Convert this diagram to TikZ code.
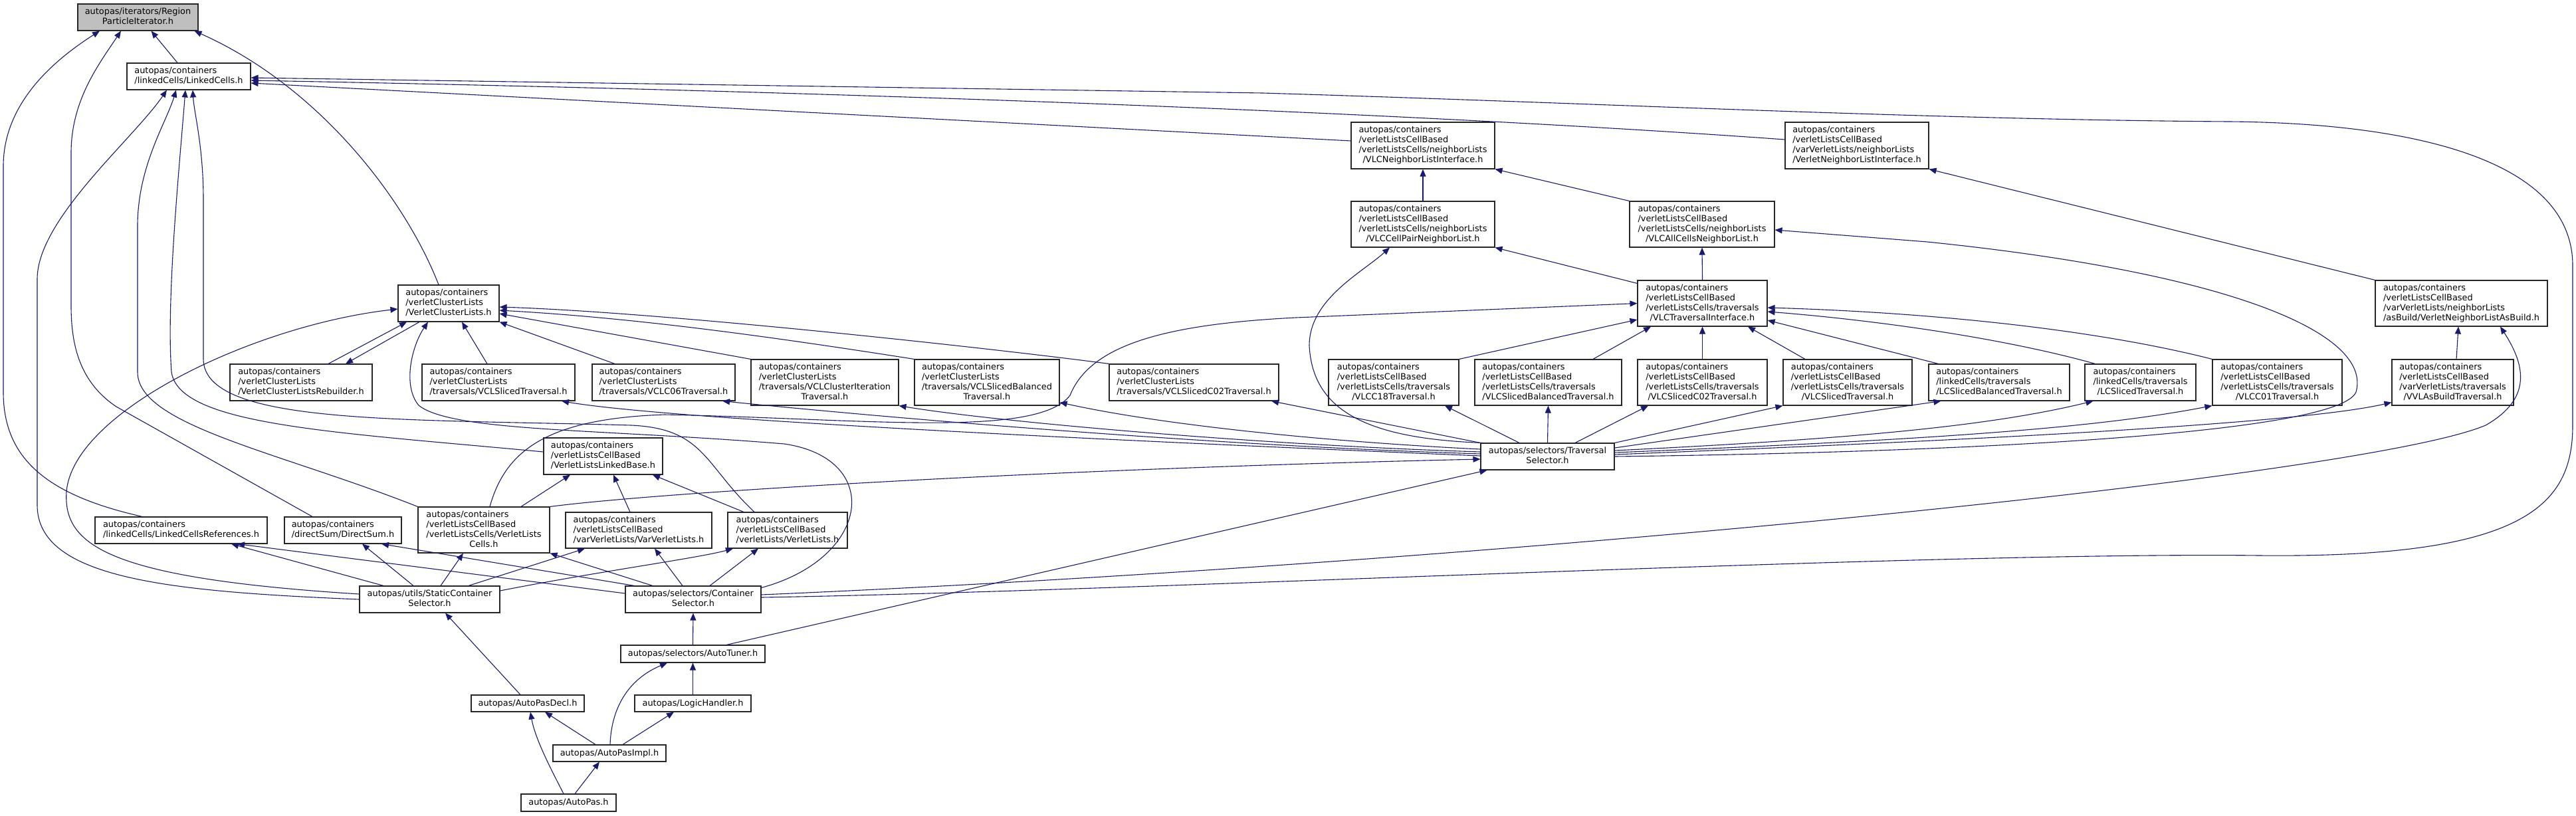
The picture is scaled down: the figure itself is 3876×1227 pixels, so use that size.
\documentclass[tikz,border=0pt]{standalone}
\usepackage{fontspec}
\setmainfont{DejaVu Sans}
\usepackage{tikz}
\usetikzlibrary{arrows.meta}
\definecolor{edgeblue}{RGB}{25,25,112}
\definecolor{rootgray}{RGB}{191,191,191}
\newcommand{\depfont}{\fontsize{12.9}{15}\selectfont}
\newcommand{\flines}[2]{\begin{tabular}{@{}l@{}}#1\\\multicolumn{1}{@{}c@{}}{#2}\end{tabular}}

\begin{document}
\begin{tikzpicture}[
  x=1pt, y=-1pt,
  font=\depfont,
  file/.style={rectangle, draw=black!85, line width=1.1pt, fill=white, inner sep=0pt},
  dep/.style={-{Triangle[length=11pt, width=9pt]}, line width=1.1pt, draw=edgeblue}
]
\useasboundingbox (0,0) rectangle (3876,1227);

% top of the graph
\node[file, fill=rootgray, minimum width=181pt, minimum height=40pt] (rpi) at (207.5,26) {\flines{autopas/iterators/Region}{ParticleIterator.h}};
\node[file, minimum width=186pt, minimum height=40pt] (lc) at (284,115) {\flines{autopas/containers}{/linkedCells/LinkedCells.h}};
\node[file, minimum width=216pt, minimum height=70pt] (vlcnli) at (2141,219) {\flines{autopas/containers\\/verletListsCellBased\\/verletListsCells/neighborLists}{/VLCNeighborListInterface.h}};
\node[file, minimum width=216pt, minimum height=70pt] (vnli) at (2794,219) {\flines{autopas/containers\\/verletListsCellBased\\/varVerletLists/neighborLists}{/VerletNeighborListInterface.h}};
\node[file, minimum width=216pt, minimum height=69pt] (vlccpnl) at (2141,337.5) {\flines{autopas/containers\\/verletListsCellBased\\/verletListsCells/neighborLists}{/VLCCellPairNeighborList.h}};
\node[file, minimum width=218pt, minimum height=69pt] (vlcacnl) at (2561,337.5) {\flines{autopas/containers\\/verletListsCellBased\\/verletListsCells/neighborLists}{/VLCAllCellsNeighborList.h}};
\node[file, minimum width=152pt, minimum height=55pt] (vcl) at (675,456.5) {\flines{autopas/containers\\/verletClusterLists}{/VerletClusterLists.h}};
\node[file, minimum width=195pt, minimum height=69pt] (vlcti) at (2561.5,456.5) {\flines{autopas/containers\\/verletListsCellBased\\/verletListsCells/traversals}{/VLCTraversalInterface.h}};
\node[file, minimum width=259pt, minimum height=69pt] (vnlab) at (3703.5,456.5) {\flines{autopas/containers\\/verletListsCellBased\\/varVerletLists/neighborLists}{/asBuild/VerletNeighborListAsBuild.h}};

% row of traversals
\node[file, minimum width=214pt, minimum height=55pt] (vclr) at (453,575.5) {\flines{autopas/containers\\/verletClusterLists}{/VerletClusterListsRebuilder.h}};
\node[file, minimum width=230pt, minimum height=55pt] (vclsl) at (750,575.5) {\flines{autopas/containers\\/verletClusterLists}{/traversals/VCLSlicedTraversal.h}};
\node[file, minimum width=215pt, minimum height=55pt] (vclc06) at (998.5,575.5) {\flines{autopas/containers\\/verletClusterLists}{/traversals/VCLC06Traversal.h}};
\node[file, minimum width=222pt, minimum height=69pt] (vclci) at (1241,575.5) {\flines{autopas/containers\\/verletClusterLists\\/traversals/VCLClusterIteration}{Traversal.h}};
\node[file, minimum width=218pt, minimum height=69pt] (vclsb) at (1485,575.5) {\flines{autopas/containers\\/verletClusterLists\\/traversals/VCLSlicedBalanced}{Traversal.h}};
\node[file, minimum width=255pt, minimum height=55pt] (vclsc02) at (1796.5,575.5) {\flines{autopas/containers\\/verletClusterLists}{/traversals/VCLSlicedC02Traversal.h}};
\node[file, minimum width=196pt, minimum height=69pt] (vlcc18) at (2097,575.5) {\flines{autopas/containers\\/verletListsCellBased\\/verletListsCells/traversals}{/VLCC18Traversal.h}};
\node[file, minimum width=221pt, minimum height=69pt] (vlcsb) at (2329.5,575.5) {\flines{autopas/containers\\/verletListsCellBased\\/verletListsCells/traversals}{/VLCSlicedBalancedTraversal.h}};
\node[file, minimum width=195pt, minimum height=69pt] (vlcsc02) at (2561.5,575.5) {\flines{autopas/containers\\/verletListsCellBased\\/verletListsCells/traversals}{/VLCSlicedC02Traversal.h}};
\node[file, minimum width=194pt, minimum height=69pt] (vlcsl) at (2780,575.5) {\flines{autopas/containers\\/verletListsCellBased\\/verletListsCells/traversals}{/VLCSlicedTraversal.h}};
\node[file, minimum width=212pt, minimum height=55pt] (lcsb) at (3008,575.5) {\flines{autopas/containers\\/linkedCells/traversals}{/LCSlicedBalancedTraversal.h}};
\node[file, minimum width=167pt, minimum height=55pt] (lcsl) at (3220.5,575.5) {\flines{autopas/containers\\/linkedCells/traversals}{/LCSlicedTraversal.h}};
\node[file, minimum width=195pt, minimum height=69pt] (vlcc01) at (3426.5,575.5) {\flines{autopas/containers\\/verletListsCellBased\\/verletListsCells/traversals}{/VLCC01Traversal.h}};
\node[file, minimum width=183pt, minimum height=69pt] (vvlab) at (3690.5,575.5) {\flines{autopas/containers\\/verletListsCellBased\\/varVerletLists/traversals}{/VVLAsBuildTraversal.h}};

% selectors and containers
\node[file, minimum width=201pt, minimum height=40pt] (ts) at (2328.5,687) {\flines{autopas/selectors/Traversal}{Selector.h}};
\node[file, minimum width=179pt, minimum height=55pt] (vllb) at (907.5,686.5) {\flines{autopas/containers\\/verletListsCellBased}{/VerletListsLinkedBase.h}};
\node[file, minimum width=259pt, minimum height=40pt] (lcref) at (272.5,798) {\flines{autopas/containers}{/linkedCells/LinkedCellsReferences.h}};
\node[file, minimum width=176pt, minimum height=40pt] (ds) at (516,798) {\flines{autopas/containers}{/directSum/DirectSum.h}};
\node[file, minimum width=198pt, minimum height=69pt] (vlc) at (728,797.5) {\flines{autopas/containers\\/verletListsCellBased\\/verletListsCells/VerletLists}{Cells.h}};
\node[file, minimum width=220pt, minimum height=54pt] (vvl) at (961,798) {\flines{autopas/containers\\/verletListsCellBased}{/varVerletLists/VarVerletLists.h}};
\node[file, minimum width=180pt, minimum height=54pt] (vl) at (1185,798) {\flines{autopas/containers\\/verletListsCellBased}{/verletLists/VerletLists.h}};
\node[file, minimum width=211pt, minimum height=40pt] (scs) at (646.5,902) {\flines{autopas/utils/StaticContainer}{Selector.h}};
\node[file, minimum width=204pt, minimum height=40pt] (cs) at (1043,902) {\flines{autopas/selectors/Container}{Selector.h}};
\node[file, minimum width=217pt, minimum height=26pt] (at) at (1042.5,984) {autopas/selectors/AutoTuner.h};
\node[file, minimum width=170pt, minimum height=25pt] (apd) at (794,1058.5) {autopas/AutoPasDecl.h};
\node[file, minimum width=175pt, minimum height=25pt] (lh) at (1042.5,1058.5) {autopas/LogicHandler.h};
\node[file, minimum width=170pt, minimum height=25pt] (api) at (917,1133.5) {autopas/AutoPasImpl.h};
\node[file, minimum width=143pt, minimum height=26pt] (ap) at (855.5,1208) {autopas/AutoPas.h};

% includes of the root
\draw[dep] ([xshift=-17pt]lc.north) -- ([xshift=20pt]rpi.south);
\draw[dep] ([xshift=-58.5pt]lcref.north) .. controls (70,745) and (5,690) .. (5,590) -- (5,250) .. controls (5,150) and (90,85) .. ([xshift=-57.5pt]rpi.south);
\draw[dep] ([xshift=-46pt]ds.north) -- (175,612) .. controls (120,575) and (107,520) .. (107,460) -- (107,230) .. controls (107,150) and (150,95) .. ([xshift=-25.5pt]rpi.south);
\draw[dep] ([xshift=-15pt]vcl.north) .. controls (610,300) and (480,130) .. ([xshift=85pt]rpi.south);

% includes of LinkedCells.h
\draw[dep] (scs.west) .. controls (250,890) and (56,870) .. (56,760) -- (56,420) .. controls (56,330) and (200,210) .. ([xshift=-33pt]lc.south);
\draw[dep] (vlc.north west) .. controls (420,680) and (207,640) .. (207,560) -- (207,340) .. controls (207,250) and (250,185) .. ([xshift=-19pt]lc.south);
\draw[dep] ([yshift=6.5pt]vllb.west) .. controls (500,650) and (270,640) .. (258,560) .. controls (250,450) and (270,250) .. ([xshift=-5pt]lc.south);
\draw[dep] ([xshift=-50pt]vl.north) .. controls (1060,700) and (1060,645) .. (950,640) .. controls (600,630) and (306,640) .. (306,540) -- (306,300) .. controls (306,220) and (292,170) .. ([xshift=6pt]lc.south);
\draw[dep] ([yshift=3pt]cs.east) .. controls (1700,890) and (2900,830) .. (3400,836) .. controls (3800,840) and (3871,760) .. (3871,640) -- (3871,400) .. controls (3871,230) and (3600,185) .. (3354,183) .. controls (2900,180) and (2400,155) .. (1900,140) -- ([yshift=-2pt]lc.east);
\draw[dep] ([yshift=9pt]vnli.west) .. controls (2200,175) and (1400,140) .. ([yshift=-6pt]lc.east);
\draw[dep] ([yshift=7pt]vlcnli.west) -- ([yshift=-10pt]lc.east);

% verletClusterLists
\draw[dep] ([yshift=8pt]scs.west) .. controls (160,870) and (95,820) .. (100,740) .. controls (110,620) and (380,490) .. ([yshift=-8.5pt]vcl.west);
\draw[dep] ([yshift=-3pt]cs.north east) .. controls (1310,840) and (1330,690) .. (1180,668) .. controls (900,645) and (680,650) .. (630,610) .. controls (605,580) and (620,520) .. ([xshift=-31pt]vcl.south);
\draw[dep] ([xshift=41pt]vclr.north) -- ([xshift=-63pt]vcl.south);
\draw[dep] ([xshift=-44pt]vcl.south) -- ([xshift=67pt]vclr.north);
\draw[dep] ([xshift=-17pt]vclsl.north) -- ([xshift=20pt]vcl.south);
\draw[dep] ([xshift=-73.5pt]vclc06.north) -- (vcl.south east);
\draw[dep] (vclci.north west) -- ([yshift=-15.5pt]vcl.east);
\draw[dep] (vclsb.north west) .. controls (1150,505) and (950,478) .. ([yshift=-10.5pt]vcl.east);
\draw[dep] (vclsc02.north west) .. controls (1500,525) and (1000,470) .. ([yshift=-5.5pt]vcl.east);

% verletListsCellBased
\draw[dep] ([xshift=56pt]vlc.north) -- ([xshift=-49.5pt]vllb.south);
\draw[dep] ([xshift=-13pt]vvl.north) -- ([xshift=15.5pt]vllb.south);
\draw[dep] ([xshift=-66pt]vl.north) -- ([xshift=74.5pt]vllb.south);
\draw[dep] ([xshift=9pt]vlc.north) .. controls (760,680) and (820,630) .. (1000,624) .. controls (1300,630) and (1560,660) .. (1610,595) .. controls (1640,520) and (1750,488) .. (1950,478) -- (vlcti.west);
\draw[dep] (vlc.north east) .. controls (1000,740) and (1600,705) .. ([yshift=-4pt]ts.west);

% static selector
\draw[dep] ([xshift=-69.5pt]scs.north) -- ([xshift=75.5pt]lcref.south);
\draw[dep] ([xshift=-24.5pt]scs.north) -- ([xshift=29pt]ds.south);
\draw[dep] ([xshift=16.5pt]scs.north) -- ([xshift=-31pt]vlc.south);
\draw[dep] ([xshift=58.5pt]scs.north) -- ([xshift=-81pt]vvl.south);
\draw[dep] ([yshift=13pt]scs.east) .. controls (900,860) and (1050,840) .. ([xshift=-82pt]vl.south);

% container selector
\draw[dep] ([yshift=9pt]cs.west) -- ([xshift=84.5pt]lcref.south);
\draw[dep] ([xshift=14pt]cs.north west) -- ([xshift=58pt]ds.south);
\draw[dep] ([xshift=-61pt]cs.north) -- (vlc.south east);
\draw[dep] ([xshift=-16pt]cs.north) -- ([xshift=24pt]vvl.south);
\draw[dep] ([xshift=25pt]cs.north) -- ([xshift=-44pt]vl.south);
\draw[dep] ([yshift=7pt]cs.east) .. controls (2200,850) and (3550,720) .. (3740,640) .. controls (3810,600) and (3800,550) .. ([xshift=58.5pt]vnlab.south);

% tuner and front end
\draw[dep] ([xshift=50.5pt]at.north) -- ([xshift=10pt]ts.south west);
\draw[dep] (at.north) -- (cs.south);
\draw[dep] (lh.north) -- (at.south);
\draw[dep] ([xshift=1pt]api.north) .. controls (920,1060) and (950,1020) .. ([xshift=-38.5pt]at.south);
\draw[dep] ([xshift=20pt]api.north) -- ([xshift=-28.5pt]lh.south);
\draw[dep] ([xshift=-21pt]api.north) -- ([xshift=26pt]apd.south);
\draw[dep] ([xshift=-7.5pt]ap.north) .. controls (825,1150) and (805,1110) .. ([xshift=4pt]apd.south);
\draw[dep] ([xshift=9.5pt]ap.north) -- ([xshift=-15pt]api.south);
\draw[dep] ([xshift=-11pt]apd.north) -- ([xshift=23.5pt]scs.south);

% traversal selector, left side
\draw[dep] ([yshift=1pt]ts.west) .. controls (1600,660) and (1000,630) .. ([xshift=95pt]vclsl.south);
\draw[dep] ([yshift=4pt]ts.west) .. controls (1800,670) and (1300,625) .. ([xshift=88.5pt]vclc06.south);
\draw[dep] ([yshift=7pt]ts.west) .. controls (1900,670) and (1500,635) .. (vclci.south east);
\draw[dep] ([yshift=11pt]ts.west) .. controls (2000,665) and (1750,640) .. ([yshift=5pt]vclsb.south east);
\draw[dep] (ts.north west) -- ([xshift=116.5pt]vclsc02.south);
\draw[dep] ([xshift=3pt]ts.north west) .. controls (2060,660) and (1975,620) .. (1970,520) .. controls (1970,450) and (2050,410) .. ([xshift=-50pt]vlccpnl.south);

% traversal selector, top and right side
\draw[dep] ([xshift=-42.5pt]ts.north) -- ([xshift=77pt]vlcc18.south);
\draw[dep] (ts.north) -- (vlcsb.south);
\draw[dep] ([xshift=41.5pt]ts.north) -- ([xshift=-81.5pt]vlcsc02.south);
\draw[dep] (ts.north east) -- (vlcsl.south west);
\draw[dep] ([yshift=13pt]ts.east) -- ([xshift=19pt]lcsb.south west);
\draw[dep] ([yshift=9pt]ts.east) .. controls (2800,660) and (3000,640) .. ([xshift=13pt]lcsl.south west);
\draw[dep] ([yshift=6pt]ts.east) .. controls (2900,662) and (3150,645) .. (vlcc01.south west);
\draw[dep] ([yshift=3pt]ts.east) .. controls (2900,665) and (3450,640) .. ([yshift=5pt]vvlab.south west);
\draw[dep] (ts.east) .. controls (3000,680) and (3520,650) .. (3545,590) .. controls (3570,500) and (3350,410) .. (2900,364) -- ([yshift=-8.5pt]vlcacnl.east);

% traversal interface
\draw[dep] (vlcc18.north east) -- ([yshift=-24.5pt]vlcti.west);
\draw[dep] ([xshift=67.5pt]vlcsb.north) -- ([xshift=-77.5pt]vlcti.south);
\draw[dep] (vlcsc02.north) -- (vlcti.south);
\draw[dep] ([xshift=-64pt]vlcsl.north) -- ([xshift=68.5pt]vlcti.south);
\draw[dep] (vlcc01.north west) .. controls (3150,495) and (2900,470) .. ([yshift=-6.5pt]vlcti.east);
\draw[dep] ([xshift=16pt]lcsl.north west) .. controls (3000,505) and (2800,480) .. ([yshift=-12.5pt]vlcti.east);
\draw[dep] ([xshift=15pt]lcsb.north west) -- ([yshift=-25.5pt]vlcti.east);

% neighbor lists
\draw[dep] ([yshift=-5pt]vlcti.north west) -- (vlccpnl.south east);
\draw[dep] (vlcti.north) -- (vlcacnl.south);
\draw[dep] (vlccpnl.north) -- (vlcnli.south);
\draw[dep] (vlcacnl.north west) -- (vlcnli.south east);
\draw[dep] (vnlab.north west) -- (vnli.south east);
\draw[dep] ([xshift=5.5pt]vvlab.north) -- ([xshift=-4.5pt]vnlab.south);
\end{tikzpicture}
\end{document}
